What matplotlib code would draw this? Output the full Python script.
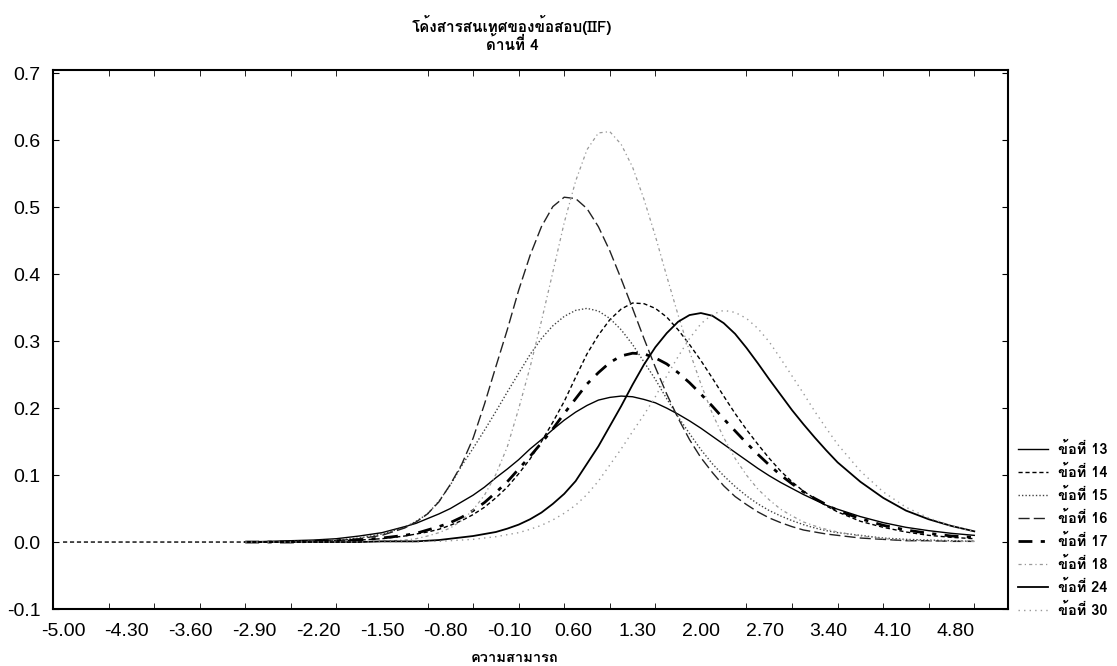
import numpy as np
import matplotlib
matplotlib.use("Agg")
import matplotlib.pyplot as plt
from matplotlib import font_manager as fm
from matplotlib.ft2font import FT2Font
from matplotlib.ticker import FixedLocator, FormatStrFormatter

# find a font that has Thai glyphs
thai_font = None
for f in fm.fontManager.ttflist:
    try:
        if 0x0E02 in FT2Font(f.fname).get_charmap():
            thai_font = f.name
            break
    except Exception:
        pass
thai_family = [thai_font, 'DejaVu Sans'] if thai_font else ['DejaVu Sans']

nan = np.nan

theta = [-5.0, -4.75, -4.5, -4.25, -4.0, -3.75, -3.5, -3.25, -3.0, -2.75, -2.5, -2.25, -2.0, -1.75, -1.5, -1.25,
         -1.125, -1.0, -0.875, -0.75, -0.625, -0.5, -0.375, -0.25, -0.125, 0.0,
         0.125, 0.25, 0.375, 0.5, 0.625, 0.75, 0.875, 1.0, 1.125, 1.25,
         1.375, 1.5, 1.625, 1.75, 1.875, 2.0, 2.125, 2.25, 2.375, 2.5,
         2.625, 2.75, 2.875, 3.0, 3.125, 3.25, 3.375, 3.5,
         3.75, 4.0, 4.25, 4.5, 4.75, 5.0]

item13 = [nan, nan, nan, nan, nan, nan, nan, nan, 0.0, 0.001, 0.002, 0.003, 0.005, 0.009, 0.014, 0.023,
          0.028, 0.035, 0.042, 0.050, 0.060, 0.070, 0.082, 0.096, 0.109, 0.123,
          0.139, 0.153, 0.168, 0.182, 0.194, 0.204, 0.212, 0.216, 0.218, 0.217,
          0.213, 0.208, 0.200, 0.191, 0.181, 0.170, 0.158, 0.146, 0.134, 0.122,
          0.110, 0.099, 0.089, 0.080, 0.071, 0.063, 0.055, 0.049,
          0.038, 0.029, 0.022, 0.017, 0.013, 0.010]
item14 = [0.0, 0.0, 0.0, 0.0, 0.0, 0.0, 0.0, 0.0, 0.0, 0.0, 0.001, 0.001, 0.002, 0.003, 0.005, 0.009,
          0.012, 0.015, 0.019, 0.025, 0.032, 0.041, 0.052, 0.066, 0.082, 0.102,
          0.124, 0.150, 0.179, 0.210, 0.246, 0.281, 0.309, 0.332, 0.348, 0.357,
          0.356, 0.349, 0.336, 0.317, 0.295, 0.271, 0.245, 0.218, 0.192, 0.168,
          0.146, 0.125, 0.106, 0.090, 0.076, 0.065, 0.054, 0.045,
          0.031, 0.022, 0.015, 0.010, 0.007, 0.005]
item15 = [nan, nan, nan, nan, nan, nan, nan, nan, 0.0, 0.0, 0.001, 0.002, 0.003, 0.006, 0.012, 0.022,
          0.031, 0.042, 0.061, 0.085, 0.114, 0.140, 0.167, 0.195, 0.224, 0.252,
          0.280, 0.304, 0.323, 0.337, 0.346, 0.349, 0.345, 0.334, 0.317, 0.295,
          0.269, 0.243, 0.214, 0.187, 0.162, 0.138, 0.117, 0.099, 0.083, 0.069,
          0.057, 0.047, 0.039, 0.032, 0.026, 0.021, 0.017, 0.014,
          0.010, 0.006, 0.004, 0.003, 0.002, 0.001]
item16 = [nan, nan, nan, nan, nan, nan, nan, nan, 0.0, 0.0, 0.0, 0.001, 0.002, 0.005, 0.010, 0.021,
          0.030, 0.042, 0.060, 0.086, 0.116, 0.155, 0.206, 0.262, 0.317, 0.376,
          0.428, 0.471, 0.501, 0.515, 0.513, 0.498, 0.471, 0.435, 0.393, 0.349,
          0.304, 0.261, 0.221, 0.185, 0.153, 0.126, 0.104, 0.084, 0.068, 0.056,
          0.045, 0.036, 0.029, 0.023, 0.018, 0.015, 0.012, 0.010,
          0.006, 0.004, 0.002, 0.002, 0.001, 0.001]
item17 = [nan, nan, nan, nan, nan, nan, nan, nan, 0.0, 0.0, 0.0, 0.001, 0.002, 0.003, 0.006, 0.010,
          0.013, 0.018, 0.023, 0.029, 0.037, 0.047, 0.059, 0.074, 0.090, 0.109,
          0.128, 0.148, 0.169, 0.192, 0.214, 0.236, 0.253, 0.268, 0.278, 0.282,
          0.281, 0.275, 0.266, 0.253, 0.238, 0.221, 0.203, 0.184, 0.166, 0.148,
          0.131, 0.115, 0.100, 0.087, 0.075, 0.065, 0.056, 0.047,
          0.035, 0.025, 0.018, 0.013, 0.009, 0.007]
item18 = [nan, nan, nan, nan, nan, nan, nan, nan, 0.0, 0.0, 0.0, 0.0, 0.0, 0.0, 0.001, 0.003,
          0.005, 0.009, 0.014, 0.021, 0.032, 0.048, 0.070, 0.101, 0.142, 0.199,
          0.261, 0.330, 0.403, 0.477, 0.539, 0.586, 0.611, 0.613, 0.594, 0.560,
          0.512, 0.457, 0.397, 0.339, 0.285, 0.236, 0.192, 0.156, 0.125, 0.100,
          0.079, 0.063, 0.049, 0.039, 0.030, 0.024, 0.019, 0.015,
          0.009, 0.005, 0.003, 0.002, 0.001, 0.001]
item24 = [nan, nan, nan, nan, nan, nan, nan, nan, 0.0, 0.0, 0.0, 0.0, 0.0, 0.0, 0.001, 0.001,
          0.001, 0.002, 0.003, 0.005, 0.007, 0.009, 0.012, 0.015, 0.020, 0.026,
          0.034, 0.044, 0.057, 0.072, 0.091, 0.117, 0.143, 0.173, 0.203, 0.235,
          0.265, 0.291, 0.312, 0.329, 0.339, 0.342, 0.338, 0.327, 0.311, 0.290,
          0.267, 0.243, 0.220, 0.197, 0.176, 0.156, 0.137, 0.119,
          0.090, 0.066, 0.047, 0.034, 0.024, 0.016]
item30 = [nan, nan, nan, nan, nan, nan, nan, nan, 0.0, 0.0, 0.0, 0.0, 0.0, 0.0, 0.0, 0.0,
          0.0, 0.001, 0.001, 0.002, 0.003, 0.004, 0.006, 0.008, 0.011, 0.014,
          0.019, 0.025, 0.033, 0.043, 0.055, 0.071, 0.091, 0.115, 0.139, 0.165,
          0.190, 0.217, 0.248, 0.277, 0.304, 0.326, 0.340, 0.346, 0.343, 0.334,
          0.319, 0.299, 0.274, 0.248, 0.222, 0.195, 0.170, 0.146,
          0.106, 0.075, 0.052, 0.036, 0.024, 0.016]

labels = ['ข้อที่ 13', 'ข้อที่ 14', 'ข้อที่ 15', 'ข้อที่ 16',
          'ข้อที่ 17', 'ข้อที่ 18', 'ข้อที่ 24', 'ข้อที่ 30']
series = [item13, item14, item15, item16, item17, item18, item24, item30]

styles = [
    dict(color='black', ls='-', lw=1.0),
    dict(color='black', ls=(0, (3, 2)), lw=1.0),
    dict(color='#444444', ls=(0, (1, 1.5)), lw=1.0),
    dict(color='#222222', ls=(0, (8, 3)), lw=1.0),
    dict(color='black', ls=(0, (5, 3, 1.5, 3)), lw=2.0),
    dict(color='#999999', ls=(0, (2.5, 2.5, 1, 2.5)), lw=0.9),
    dict(color='black', ls='-', lw=1.3),
    dict(color='#999999', ls=(0, (1, 3)), lw=1.0),
]

fig = plt.figure(figsize=(11.17, 6.66), dpi=100)
ax = fig.add_axes([53 / 1117, 1 - 609 / 666, 955 / 1117, 539 / 666])

for vals, lab, st in zip(series, labels, styles):
    ax.plot(theta, vals, label=lab, **st)

ax.set_xlim(-5.11, 5.37)
ax.set_ylim(-0.1, 0.705)

xlabels = [-5.0, -4.3, -3.6, -2.9, -2.2, -1.5, -0.8, -0.1, 0.6, 1.3,
           2.0, 2.7, 3.4, 4.1, 4.8]
ax.xaxis.set_major_locator(FixedLocator(xlabels))
ax.xaxis.set_major_formatter(FormatStrFormatter('%.2f'))
ax.xaxis.set_minor_locator(FixedLocator(np.arange(-5.0, 5.01, 0.5)))
ax.yaxis.set_major_locator(FixedLocator(np.arange(-0.1, 0.71, 0.1)))
ax.yaxis.set_major_formatter(FormatStrFormatter('%.1f'))

ax.tick_params(axis='x', which='major', length=0, pad=10)
ax.tick_params(axis='x', which='minor', direction='in', length=4, top=True, bottom=True)
ax.tick_params(axis='y', which='major', direction='in', length=4, left=True, right=True, pad=9)
for lbl in ax.get_xticklabels() + ax.get_yticklabels():
    lbl.set_fontfamily('Liberation Sans')
    lbl.set_fontsize(14)

for sp in ax.spines.values():
    sp.set_linewidth(1.5)

fig.text(512 / 1117, 1 - 25 / 666, 'โค้งสารสนเทศของข้อสอบ(IIF)', ha='center', va='center',
         family=thai_family, fontweight='bold', fontsize=11)
fig.text(512 / 1117, 1 - 44 / 666, 'ด้านที่ 4', ha='center', va='center',
         family=thai_family, fontweight='bold', fontsize=11)
fig.text(515 / 1117, 1 - 658 / 666, 'ความสามารถ', ha='center', va='center',
         family=thai_family, fontweight='bold', fontsize=10.5)

fig.legend(loc='upper left', bbox_to_anchor=(1018 / 1117, 1 - 442 / 666),
           frameon=False, borderpad=0, borderaxespad=0,
           handlelength=2.05, handletextpad=0.68, labelspacing=0.54,
           prop=dict(family=thai_family, weight='bold', size=10.5))

fig.savefig('out.png', dpi=100)
